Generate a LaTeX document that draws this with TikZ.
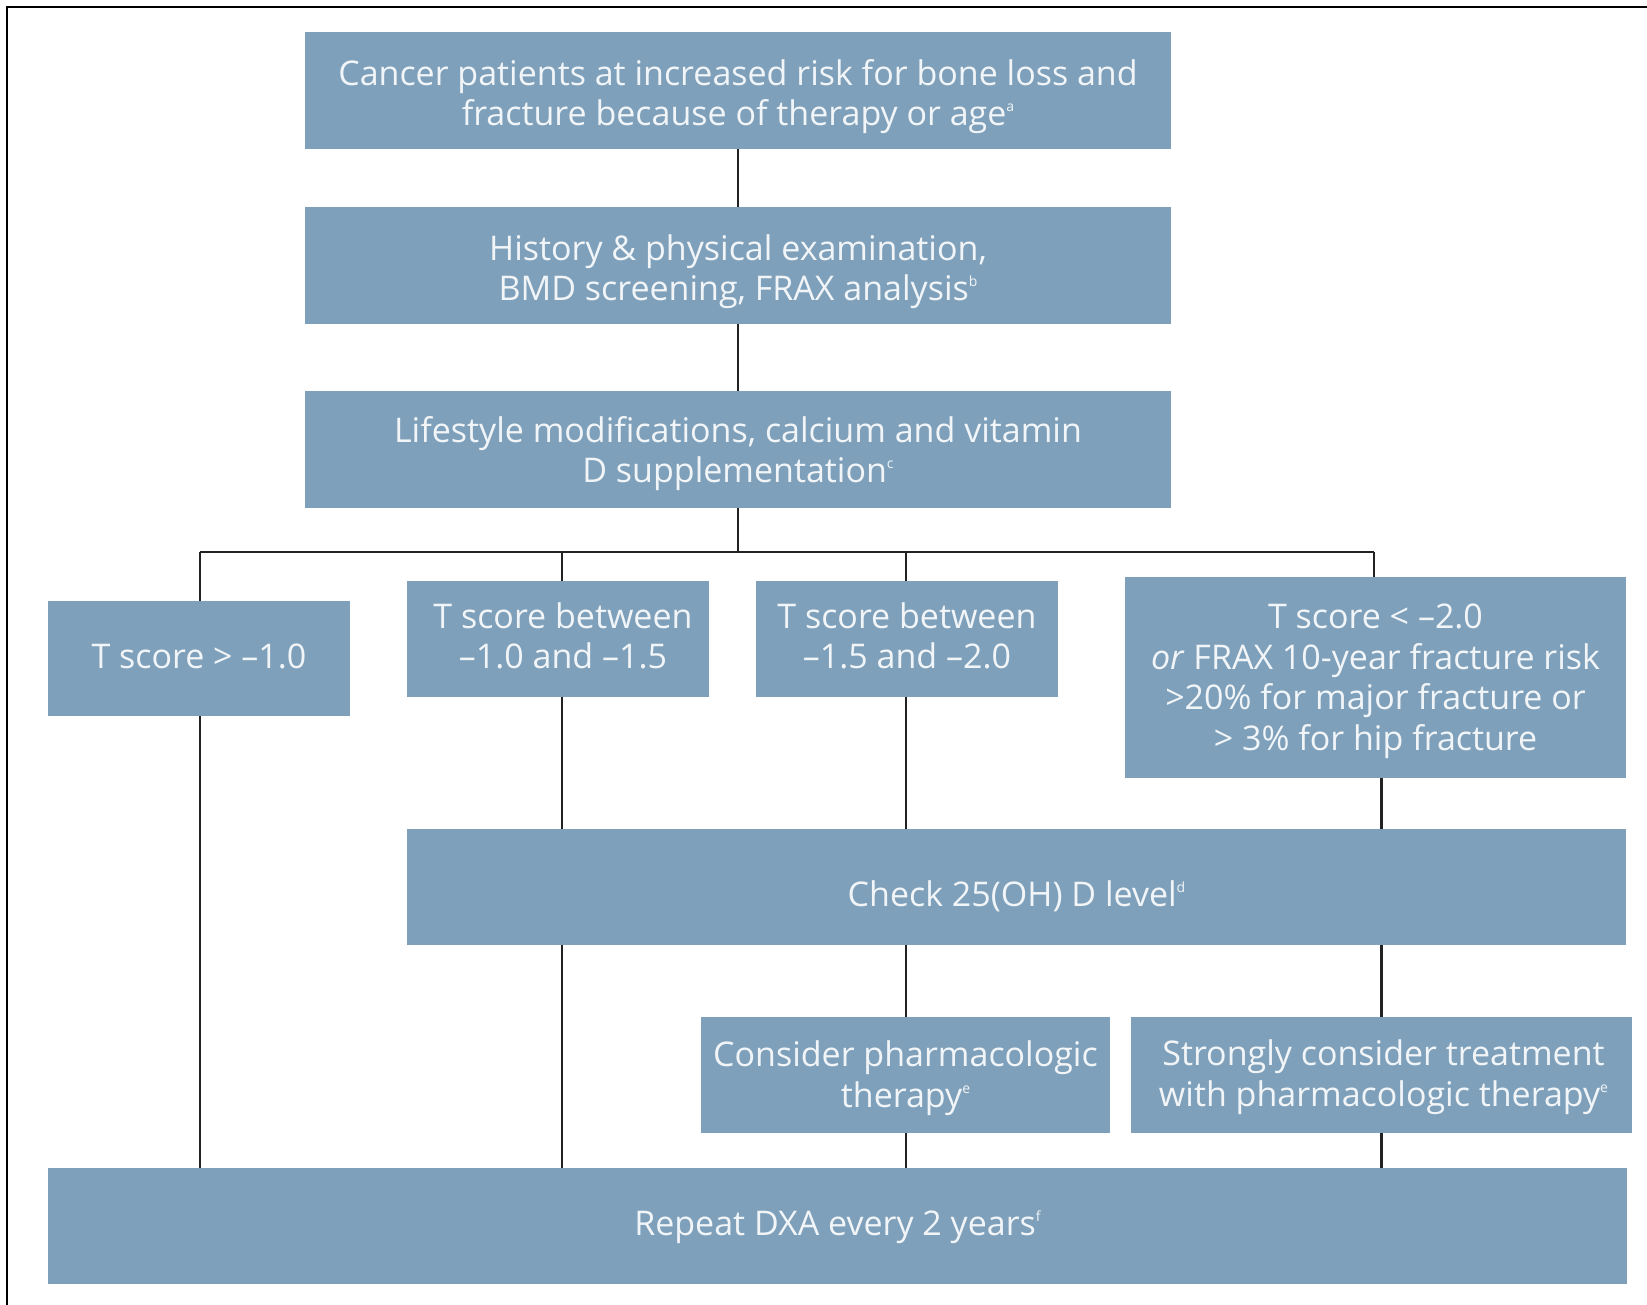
\documentclass[tikz,border=0pt]{standalone}
\usepackage{fontspec}
\setmainfont{Open Sans}
\definecolor{boxc}{HTML}{7FA0BA}
\definecolor{txtc}{HTML}{F1F5F8}
\definecolor{linec}{HTML}{222222}
\newcommand{\fnsup}[1]{\raisebox{14pt}{\fontsize{14}{14}\selectfont #1}}
\tikzset{
  box/.style={fill=boxc, inner sep=0pt, anchor=center},
  txt/.style={text=txtc, inner sep=0pt, align=center,
    font=\fontsize{34}{40.5}\selectfont, anchor=center},
  conn/.style={line width=2.6pt, draw=linec},
  frame/.style={line width=2.2pt, draw=black}
}
\begin{document}
\begin{tikzpicture}[x=1pt,y=-1pt]
\useasboundingbox (0,0) rectangle (1647,1305);
\clip (0,0) rectangle (1647,1305);
\fill[white] (0,0) rectangle (1647,1305);
\draw[frame] (7,1330) -- (7,7) -- (1680,7);

% boxes
\node[box, minimum width=866pt, minimum height=117pt] (top) at (738,90.5) {};
\node[box, minimum width=866pt, minimum height=117pt] (hist) at (738,265.5) {};
\node[box, minimum width=866pt, minimum height=117pt] (life) at (738,449.5) {};
\node[box, minimum width=302pt, minimum height=115pt] (ta) at (199,658.5) {};
\node[box, minimum width=302pt, minimum height=116pt] (tb) at (558,639) {};
\node[box, minimum width=302pt, minimum height=116pt] (tc) at (907,639) {};
\node[box, minimum width=501pt, minimum height=201pt] (td) at (1375.5,677.5) {};
\node[box, minimum width=1219pt, minimum height=116pt] (chk) at (1016.5,887) {};
\node[box, minimum width=409pt, minimum height=116pt] (cons) at (905.5,1075) {};
\node[box, minimum width=501pt, minimum height=116pt] (strong) at (1381.5,1075) {};
\node[box, minimum width=1579pt, minimum height=116pt] (rep) at (837.5,1226) {};

% texts
\node[txt, yshift=-6pt] (topT) at (top)
  {Cancer patients at increased risk for bone loss and\\fracture because of therapy or age\fnsup{a}};
\node[txt, yshift=-6pt] (histT) at (hist)
  {History \& physical examination,\\BMD screening, FRAX analysis\fnsup{b}};
\node[txt, yshift=-4pt] (lifeT) at (life)
  {Lifestyle modifications, calcium and vitamin\\D supplementation\fnsup{c}};
\node[txt, yshift=2pt] (taT) at (ta) {T score > –1.0};
\node[txt, yshift=3pt, xshift=5pt] (tbT) at (tb) {T score between\\–1.0 and –1.5};
\node[txt, yshift=3pt] (tcT) at (tc) {T score between\\–1.5 and –2.0};
\node[txt, yshift=-4pt] (tdT) at (td)
  {T score < –2.0\\\textit{or} FRAX 10-year fracture risk\\>20\% for major fracture or\\> 3\% for hip fracture};
\node[txt, yshift=-9pt] (chkT) at (chk) {Check 25(OH) D level\fnsup{d}};
\node[txt, yshift=-3pt] (consT) at (cons) {Consider pharmacologic\\therapy\fnsup{e}};
\node[txt, yshift=-2pt, xshift=2pt] (strongT) at (strong)
  {Strongly consider treatment\\with pharmacologic therapy\fnsup{e}};
\node[txt, yshift=-1pt] (repT) at (rep) {Repeat DXA every 2 years\fnsup{f}};

% connectors
\coordinate (busM) at (738,552);
\coordinate (busL) at (200,552);
\coordinate (busB) at (562,552);
\coordinate (busC) at (906,552);
\coordinate (busR) at (1374,552);
\draw[conn] (top.south) -- (hist.north);
\draw[conn] (hist.south) -- (life.north);
\draw[conn] (life.south) -- (busM);
\draw[conn] (busL) -- (busR);
\draw[conn] (busL) -- (busL |- ta.north);
\draw[conn] (busB) -- (busB |- tb.north);
\draw[conn] (busC) -- (busC |- tc.north);
\draw[conn] (busR) -- (busR |- td.north);

\draw[conn] (busL |- ta.south) -- (busL |- rep.north);
\draw[conn] (busB |- tb.south) -- (busB |- chk.north);
\draw[conn] (busB |- chk.south) -- (busB |- rep.north);
\draw[conn] (busC |- tc.south) -- (busC |- chk.north);
\draw[conn] (busC |- chk.south) -- (busC |- cons.north);
\draw[conn] (busC |- cons.south) -- (busC |- rep.north);
\draw[conn] (td.south -| strong.north) -- (chk.north -| strong.north);
\draw[conn] (chk.south -| strong.north) -- (strong.north);
\draw[conn] (strong.south) -- (strong.south |- rep.north);
\end{tikzpicture}
\end{document}
